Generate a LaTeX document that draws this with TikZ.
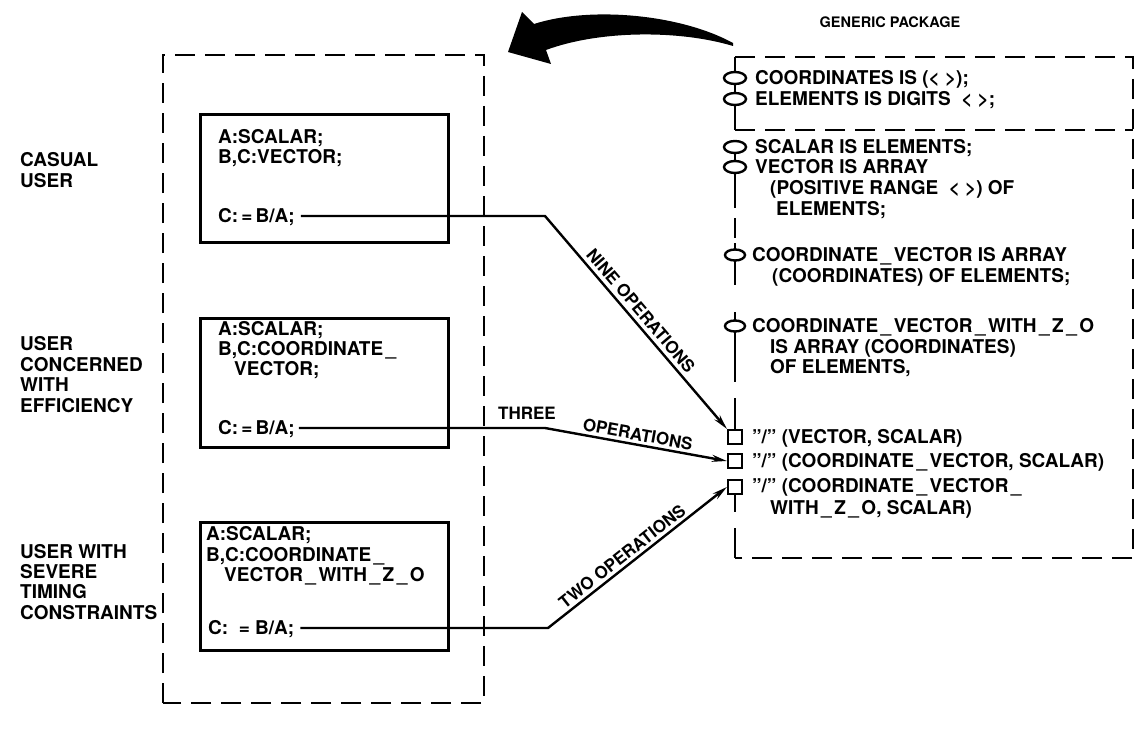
\documentclass[tikz,border=0pt]{standalone}
\usepackage{fontspec}
\setmainfont{TeX Gyre Heros}
\usetikzlibrary{arrows.meta}
% underscore with a little air on both sides
\newcommand{\usc}{\hspace{2.5pt}\_\hspace{2.5pt}}
\begin{document}
\begin{tikzpicture}[x=1pt,y=-1pt,
  txt/.style={font=\bfseries\fontsize{19}{21}\selectfont, inner sep=0pt,
    text height=13.6pt, text depth=0pt, anchor=west},
  head/.style={txt, font=\bfseries\fontsize{14.5}{16}\selectfont, text height=10.4pt, anchor=center},
  lbl/.style={txt, font=\bfseries\fontsize{17}{19}\selectfont, text height=12.2pt},
  dashbox/.style={line width=2.4pt, dash pattern=on 20pt off 10pt},
  codebox/.style={draw, line width=3pt, inner sep=0pt},
  conn/.style={line width=2.4pt, -{Stealth[length=15pt,width=7pt]}},
  oval/.style={line width=2.4pt},
  sqbox/.style={draw, line width=2.2pt, minimum size=14pt, inner sep=0pt, fill=white},
  stem/.style={line width=2.4pt}
]
\useasboundingbox (0,0) rectangle (1135,733);

% ---------------- user side ----------------
\draw[dashbox] (163,703) -- (163,55) -- (484,55) -- (484,703) -- cycle;

\node[codebox, minimum width=248pt, minimum height=127pt] (box1) at (324,178.5) {};
\node[codebox, minimum width=248pt, minimum height=129pt] (box2) at (324,382.5) {};
\node[codebox, minimum width=248pt, minimum height=128pt] (box3) at (324,586) {};

% user categories
\node[txt] (u1a) at (20,160) {CASUAL};
\node[txt] (u1b) at (20,181) {USER};
\node[txt] (u2a) at (20,344) {USER};
\node[txt] (u2b) at (20,365) {CONCERNED};
\node[txt] (u2c) at (20,385) {WITH};
\node[txt] (u2d) at (20,406) {EFFICIENCY};
\node[txt] (u3a) at (20,552) {USER WITH};
\node[txt] (u3b) at (20,572) {SEVERE};
\node[txt] (u3c) at (20,592) {TIMING};
\node[txt] (u3d) at (20,613) {CONSTRAINTS};

% declarations in each program
\node[txt] (p1a) at (218,137) {A:SCALAR;};
\node[txt] (p1b) at (218,157) {B,C:VECTOR;};
\node[txt] (c1)  at (218,216) {C:\,=\,B/A;};

\node[txt] (p2a) at (218,329) {A:SCALAR;};
\node[txt] (p2b) at (218,349) {B,C:COORDINATE\usc};
\node[txt] (p2c) at (234,369) {VECTOR;};
\node[txt] (c2)  at (218,428) {C:\,=\,B/A;};

\node[txt] (p3a) at (206,534) {A:SCALAR;};
\node[txt] (p3b) at (206,555) {B,C:COORDINATE\usc};
\node[txt] (p3c) at (224,575) {VECTOR\usc WITH\usc Z\usc O};
\node[txt] (c3)  at (208,628) {C:\ \ =\ B/A;};

% ---------------- generic package ----------------
\node[head] (gp) at (890,22) {GENERIC PACKAGE};

\draw[dashbox] (735,57) -- (1133,57) -- (1133,558) -- (735,558);
\draw[dashbox] (735,130) -- (1133,130);

% formal parameters (ovals) and operations (squares) on the package spine
\draw[stem] (735,57) -- (735,72);
\draw[oval] (735,78) ellipse [x radius=11, y radius=6];
\draw[stem] (735,84) -- (735,93);
\draw[oval] (735,99) ellipse [x radius=11, y radius=6];
\draw[stem] (735,105) -- (735,130);

\draw[oval] (735,147) ellipse [x radius=11, y radius=6];
\draw[stem] (735,153) -- (735,161);
\draw[oval] (735,167) ellipse [x radius=11, y radius=6];
\draw[stem] (735,173) -- (735,208);
\draw[stem] (735,218) -- (735,238);
\draw[stem] (735,243) -- (735,250);
\draw[oval] (735,255) ellipse [x radius=10, y radius=5.5];
\draw[stem] (735,260.5) -- (735,285);
\draw[stem] (735,312) -- (735,320.5);
\draw[oval] (735,326) ellipse [x radius=10, y radius=5.5];
\draw[stem] (735,331.5) -- (735,382);
\draw[stem] (735,398) -- (735,431);
\draw[stem] (735,494) -- (735,512);
\draw[stem] (735,528) -- (735,558);

\node[sqbox] (s1) at (735,437) {};
\node[sqbox] (s2) at (735,461) {};
\node[sqbox] (s3) at (735,487) {};

\node[txt] (g1) at (755,78) {COORDINATES IS (<\ >);};
\node[txt] (g2) at (755,99) {ELEMENTS IS DIGITS \ <\ >;};
\node[txt] (g3) at (755,147) {SCALAR IS ELEMENTS;};
\node[txt] (g4) at (755,167) {VECTOR IS ARRAY};
\node[txt] (g5) at (770,188) {(POSITIVE RANGE \ <\ >) OF};
\node[txt] (g6) at (776,209) {ELEMENTS;};
\node[txt] (g7) at (752,255) {COORDINATE\usc VECTOR IS ARRAY};
\node[txt] (g8) at (772,276) {(COORDINATES) OF ELEMENTS;};
\node[txt] (g9) at (752,326) {COORDINATE\usc VECTOR\usc WITH\usc Z\usc O};
\node[txt] (g10) at (770,347) {IS ARRAY (COORDINATES)};
\node[txt] (g11) at (770,367) {OF ELEMENTS,};
\node[txt] (g12) at (752,437) {''/'' (VECTOR, SCALAR)};
\node[txt] (g13) at (752,461) {''/'' (COORDINATE\usc VECTOR, SCALAR)};
\node[txt] (g14) at (752,486) {''/'' (COORDINATE\usc VECTOR\usc};
\node[txt] (g15) at (770,508) {WITH\usc Z\usc O, SCALAR)};

% ---------------- connectors ----------------
\coordinate (k1) at (545,216);
\coordinate (k2) at (545,428);
\coordinate (k3) at (548,628);

\draw[conn] (c1.east) ++(6,0) -- (k1)
  -- node[lbl, anchor=south, sloped, pos=0.48, yshift=4pt] (l1) {NINE OPERATIONS} (s1.north west);
\draw[conn] (c2.east) ++(4,0) -- (k2)
  -- node[lbl, anchor=south, sloped, pos=0.5, yshift=3pt] (l2b) {OPERATIONS} (s2.west);
\node[lbl, anchor=south east] (l2a) at (556,420) {THREE};
\draw[conn] (c3.east) ++(6,0) -- (k3)
  -- node[lbl, anchor=south, sloped, pos=0.45, yshift=3pt] (l3) {TWO OPERATIONS} (s3.west);

% ---------------- instantiation arrow ----------------
\fill (733,43) .. controls (680,14) and (590,6) .. (534,24)
  -- (522,12) -- (508,52) -- (551,64) -- (546,50)
  .. controls (600,30) and (680,30) .. (733,46) -- cycle;
\end{tikzpicture}
\end{document}
